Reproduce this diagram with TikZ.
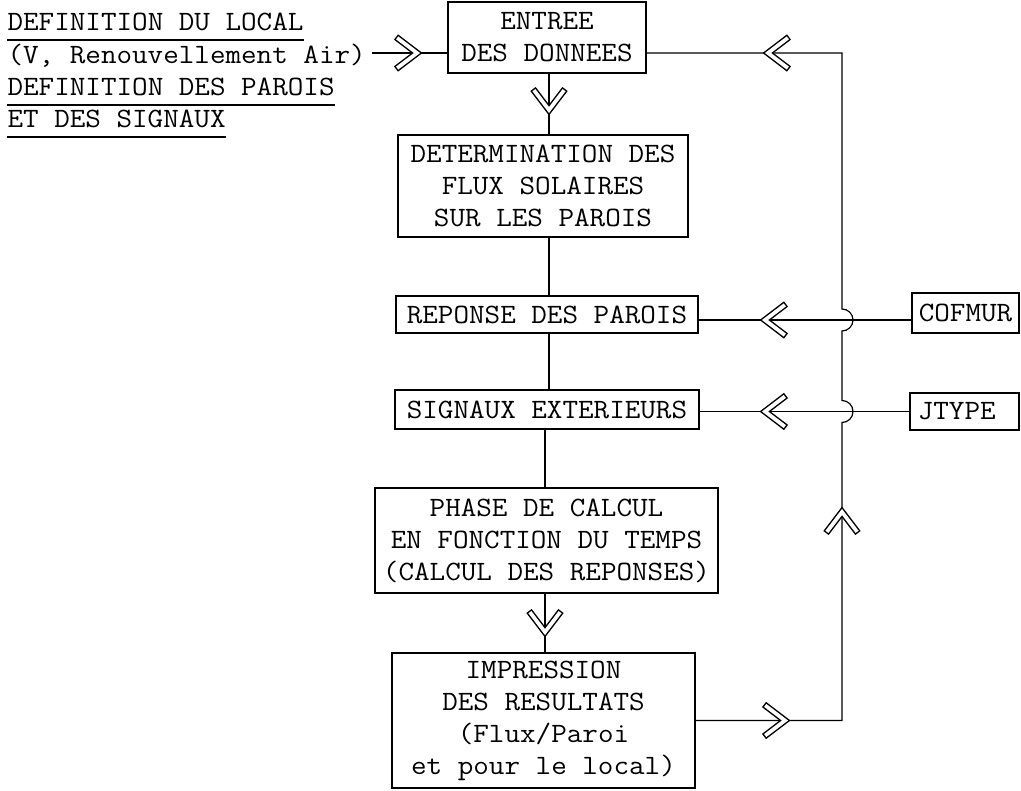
\documentclass[tikz,border=0pt]{standalone}
\usepackage{fontspec}
\setmonofont{Latin Modern Mono}[FakeStretch=1.08]
\usetikzlibrary{calc}
\begin{document}
\begin{tikzpicture}[x=0.75pt,y=-0.75pt,line width=0.9pt,
  every node/.style={font=\ttfamily\fontsize{21}{24}\selectfont},
  box/.style={draw,inner sep=0pt,align=center,line width=0.9pt},
  lbl/.style={inner sep=0pt,anchor=base west},
  chevout/.style={line width=5pt,line join=miter,line cap=butt,draw=black},
  chevin/.style={line width=2.8pt,line join=miter,line cap=butt,draw=white,shorten <=1.1pt,shorten >=1.1pt},
  chev/.pic={\draw[chevout] (-21,16) -- (0,0) -- (-21,-16);
             \draw[chevin] (-21,16) -- (0,0) -- (-21,-16);}
]
\useasboundingbox (0,0) rectangle (1021,791);

% left labels
\node[lbl] (l1) at (7,31) {DEFINITION DU LOCAL};
\node[lbl] (l2) at (7,64) {(V, Renouvellement Air)};
\node[lbl] (l3) at (7,96) {DEFINITION DES PAROIS};
\node[lbl] (l4) at (7,128) {ET DES SIGNAUX};
\draw ([yshift=-6.75pt]l1.base west) -- ([yshift=-6.75pt]l1.base east);
\draw ([yshift=-6.75pt]l3.base west) -- ([yshift=-6.75pt]l3.base east);
\draw ([yshift=-6.75pt]l4.base west) -- ([yshift=-6.75pt]l4.base east);

% boxes
\node[box,minimum width=148.5pt,minimum height=53.25pt] (ent) at (547,37.5) {ENTREE\\DES DONNEES};
\node[box,minimum width=217.5pt,minimum height=76.5pt] (det) at (543,186) {DETERMINATION DES\\FLUX SOLAIRES\\SUR LES PAROIS};
\node[box,minimum width=226.5pt,minimum height=27.75pt] (rep) at (547,314.5) {REPONSE DES PAROIS};
\node[box,minimum width=228pt,minimum height=29.25pt] (sig) at (547,409.5) {SIGNAUX EXTERIEURS};
\node[box,minimum width=80.25pt,minimum height=30pt] (cof) at (965.5,313) {COFMUR};
\node[box,minimum width=81.75pt,minimum height=27.75pt] (jty) at (964.5,411.5) {JTYPE\hphantom{X}};
\node[box,minimum width=257.25pt,minimum height=78.75pt] (pha) at (546.5,540.5) {PHASE DE CALCUL\\EN FONCTION DU TEMPS\\(CALCUL DES REPONSES)};
\node[box,minimum width=227.25pt,minimum height=101.25pt] (imp) at (543.5,720.5) {IMPRESSION\\DES RESULTATS\\(Flux/Paroi\\et pour le local)};

% helper coordinates
\coordinate (rx) at (842,0);
\coordinate (cx) at (549,0);
\coordinate (cy) at (545,0);
\coordinate (inp) at ([xshift=4.5pt,yshift=8.25pt]l2.base east);
\coordinate (cofL) at ($(cof.west)+(0,7)$);

% connectors
\draw (inp) -- (inp -| ent.west);
\draw (ent.south -| cx) -- (det.north -| cx);
\draw (det.south -| cx) -- (rep.north -| cx);
\draw (rep.south -| cx) -- (sig.north -| cx);
\draw (sig.south -| cy) -- (pha.north -| cy);
\draw (pha.south -| cy) -- (imp.north -| cy);
\draw (cofL) -- (cofL -| rep.east);
\draw (jty.west) -- (jty.west -| sig.east);
\draw (imp.east) -- (imp.east -| rx)
  -- ($(jty.west -| rx)+(0,11)$) arc[start angle=-90,end angle=90,radius=8.25pt]
  -- ($(cofL -| rx)+(0,11)$) arc[start angle=-90,end angle=90,radius=8.25pt]
  -- (inp -| rx) -- (inp -| ent.east);

% chevron arrowheads
\pic at (417,53) {chev};
\pic[rotate=-90] at (549,110) {chev};
\pic[rotate=180] at (768,53) {chev};
\pic[rotate=180] at (765,320) {chev};
\pic[rotate=180] at (765,411.5) {chev};
\pic[rotate=90] at (842,512) {chev};
\pic at (785,720.5) {chev};
\pic[rotate=-90] at (545,632) {chev};
\end{tikzpicture}
\end{document}
